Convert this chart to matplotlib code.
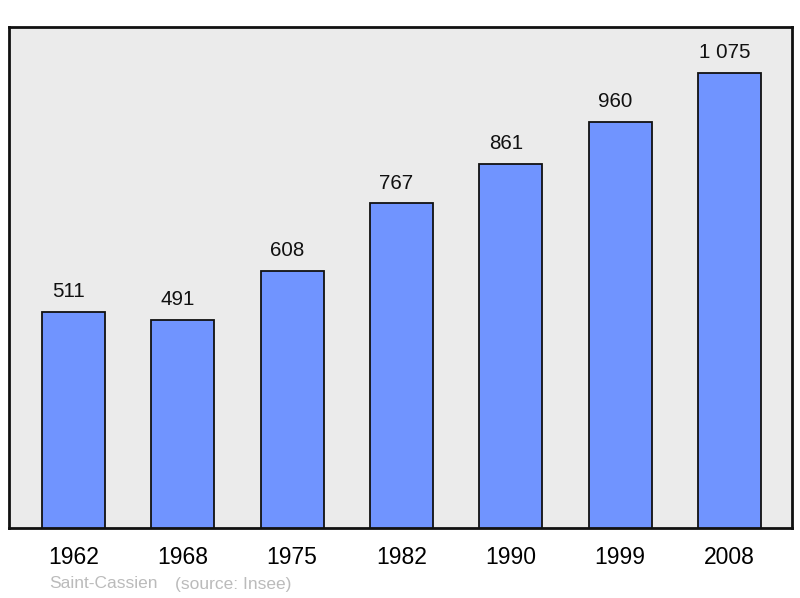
import matplotlib
matplotlib.use("Agg")
import matplotlib.pyplot as plt

years = ["1962", "1968", "1975", "1982", "1990", "1999", "2008"]
population = [511, 491, 608, 767, 861, 960, 1075]
value_labels = ["511", "491", "608", "767", "861", "960", "1 075"]

plt.rcParams['font.family'] = ['Liberation Sans', 'DejaVu Sans']

fig = plt.figure(figsize=(8, 5.98), dpi=100)
ax = fig.add_axes([9/800, 70/598, 783/800, 501/598])
ax.set_facecolor('#EBEBEB')

x = list(range(len(years)))
ax.bar(x, population, width=0.576, color='#7094FF', edgecolor='#111111', linewidth=1.3, zorder=3)
for xi, v, lab in zip(x, population, value_labels):
    ax.annotate(lab, (xi, v), xytext=(-3.6, 14.6), textcoords='offset points',
                ha='center', va='center', fontsize=14.8, color='#111111')

ax.set_xlim(-0.59, 6.572)
ax.set_ylim(0, 1183.6)
ax.set_yticks([])
ax.set_xticks(x)
ax.set_xticklabels(years, fontsize=16.5)
ax.tick_params(axis='x', length=0, pad=13)
for s in ax.spines.values():
    s.set_linewidth(2)
    s.set_color('#111111')

fig.text(49/800, 1 - 584/598, "Saint-Cassien", fontsize=12.5,
         color='#BBBBBB', ha='left', va='center')
fig.text(175/800, 1 - 584/598, "(source: Insee)", fontsize=12.5,
         color='#BBBBBB', ha='left', va='center')

fig.savefig("out.png", dpi=100)
